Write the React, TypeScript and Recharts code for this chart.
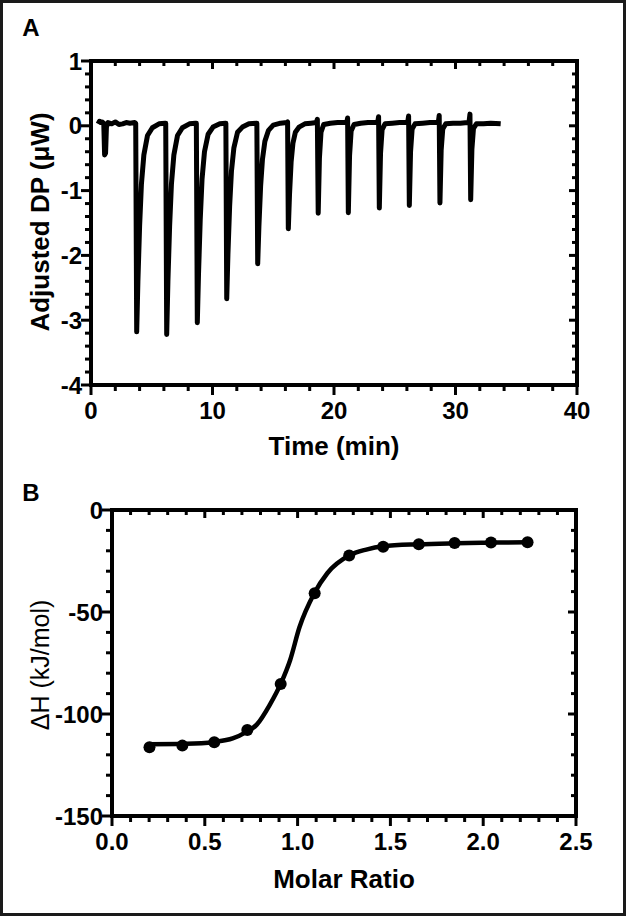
import { LineChart, Line, XAxis, YAxis } from "recharts";

const FONT = '"Liberation Sans", Arial, Helvetica, sans-serif';

// Panel A: raw ITC thermogram, [time (min), adjusted DP (µW)]
const traceA: [number, number][] = [
  [0.58, 0.03], [0.7, 0.07], [0.8, 0.05], [0.9, 0.06], [1.05, 0.04], [1.12, -0.45], [1.2, -0.42], [1.27, -0.02],
  [1.4, 0.05], [1.7, 0.03], [2.0, 0.06], [2.3, 0.02], [2.6, 0.03], [2.9, 0.05], [3.2, 0.04], [3.6, 0.05],
  [3.68, 0.04], [3.76, -3.18], [3.86, -2.4], [4.0, -1.55], [4.15, -0.9], [4.35, -0.45], [4.65, -0.15], [5.05, -0.03], [5.6, 0.03], [6.1, 0.04],
  [6.15, 0.04], [6.23, -3.22], [6.33, -2.4], [6.47, -1.55], [6.62, -0.9], [6.82, -0.45], [7.12, -0.15], [7.52, -0.03], [8.1, 0.03], [8.6, 0.04],
  [8.67, 0.04], [8.75, -3.04], [8.85, -2.28], [8.99, -1.45], [9.14, -0.82], [9.34, -0.4], [9.64, -0.13], [10.04, -0.02], [10.6, 0.03], [11.08, 0.04],
  [11.1, 0.04], [11.17, -2.67], [11.27, -1.98], [11.41, -1.24], [11.56, -0.7], [11.76, -0.34], [12.06, -0.1], [12.46, -0.02], [13.0, 0.03], [13.6, 0.04],
  [13.65, 0.04], [13.72, -2.13], [13.82, -1.55], [13.96, -0.93], [14.11, -0.52], [14.31, -0.24], [14.61, -0.07], [15.0, 0.01], [15.6, 0.04], [16.12, 0.05],
  [16.18, 0.06], [16.24, -1.59], [16.34, -1.05], [16.47, -0.56], [16.62, -0.27], [16.82, -0.1], [17.12, -0.02], [17.6, 0.03], [18.1, 0.04], [18.55, 0.05],
  [18.63, 0.1], [18.7, -1.35], [18.8, -0.5], [18.93, -0.1], [19.15, 0.02], [19.7, 0.04], [20.3, 0.05], [20.9, 0.05],
  [21.05, 0.05], [21.12, 0.12], [21.18, -1.34], [21.28, -0.46], [21.41, -0.08], [21.65, 0.02], [22.2, 0.04], [22.8, 0.05], [23.4, 0.05],
  [23.6, 0.06], [23.67, 0.14], [23.73, -1.27], [23.83, -0.42], [23.96, -0.06], [24.2, 0.03], [24.8, 0.04], [25.4, 0.05], [25.95, 0.05],
  [26.07, 0.06], [26.14, 0.15], [26.2, -1.23], [26.3, -0.4], [26.43, -0.05], [26.67, 0.03], [27.3, 0.04], [27.9, 0.05], [28.45, 0.05],
  [28.59, 0.06], [28.66, 0.16], [28.72, -1.19], [28.82, -0.38], [28.95, -0.05], [29.2, 0.03], [29.8, 0.04], [30.4, 0.04], [31.0, 0.05],
  [31.12, 0.07], [31.19, 0.18], [31.25, -1.14], [31.35, -0.36], [31.48, -0.04], [31.72, 0.03], [32.3, 0.03], [32.9, 0.04], [33.72, 0.03],
];

// Panel B: integrated heats
const molarRatio = [0.202, 0.379, 0.551, 0.729, 0.909, 1.092, 1.278, 1.461, 1.653, 1.846, 2.042, 2.239];
const enthalpy = [-116.3, -115.5, -113.9, -107.8, -85.3, -40.8, -22.3, -18, -16.8, -16.2, -15.9, -15.8];

// fitted binding curve
const fitRatio = [0.2, 0.4, 0.55, 0.65, 0.72, 0.78, 0.85, 0.91, 0.96, 1.01, 1.09, 1.16, 1.28, 1.37, 1.46, 1.65, 1.85, 2.04, 2.24];
const fitEnthalpy = [-114.8, -114.6, -113.7, -112, -109, -105.2, -95.5, -85, -73.5, -57.5, -40.8, -31, -22.2, -19.4, -17.8, -16.8, -16.3, -16, -15.8];

// axis ticks (major + minor)
const range = (a: number, b: number, step: number) => {
  const out: number[] = [];
  for (let v = a; v <= b + step / 2; v += step) out.push(Math.round(v * 1000) / 1000);
  return out;
};
const timeTicks = range(0, 40, 2);
const dpTicks = range(-4, 1, 0.2);
const ratioTicks = range(0, 2.5, 0.1);
const dhTicks = range(-150, 0, 10);

const thermoData = traceA.map(([t, dp]) => ({ t, dp }));
const pointData = molarRatio.map((x, i) => ({ x, y: enthalpy[i] }));
const fitData = fitRatio.map((x, i) => ({ x, y: fitEnthalpy[i] }));

type Side = "bottom" | "top" | "left" | "right";

const makeTick = (side: Side, major: number, decimals: number) => (props: any) => {
  const { x, y, payload } = props;
  const v = payload.value as number;
  const isMajor = Math.abs(v / major - Math.round(v / major)) < 1e-6;
  const outLen = isMajor ? 10 : 6;
  const inLen = isMajor ? 8 : 5;
  const label = v.toFixed(decimals);
  const textProps = { fill: "#000", fontSize: 24, fontWeight: 700, fontFamily: FONT };
  if (side === "bottom") {
    return (
      <g>
        <line x1={x} y1={y} x2={x} y2={y + outLen} stroke="#000" strokeWidth={3} />
        {isMajor && (
          <text x={x} y={y + 34} textAnchor="middle" {...textProps}>{label}</text>
        )}
      </g>
    );
  }
  if (side === "left") {
    return (
      <g>
        <line x1={x} y1={y} x2={x - outLen} y2={y} stroke="#000" strokeWidth={3} />
        {isMajor && (
          <text x={x - 9} y={y} dy="0.36em" textAnchor="end" {...textProps}>{label}</text>
        )}
      </g>
    );
  }
  if (side === "top") {
    return <line x1={x} y1={y} x2={x} y2={y + inLen} stroke="#000" strokeWidth={3} />;
  }
  return <line x1={x} y1={y} x2={x - inLen} y2={y} stroke="#000" strokeWidth={3} />;
};

const frameLine = { stroke: "#000", strokeWidth: 4, strokeLinecap: "square" as const };

const titleStyle: React.CSSProperties = {
  position: "absolute",
  fontFamily: FONT,
  fontWeight: 700,
  fontSize: 26,
  color: "#000",
  whiteSpace: "nowrap",
  transform: "translate(-50%, -50%)",
  lineHeight: 1,
};

// shared axis props for the boxed frame
const axisBase = {
  type: "number" as const,
  allowDataOverflow: true,
  interval: 0 as const,
  tickSize: 0,
  tickMargin: 0,
  axisLine: frameLine,
  tickLine: false,
};

export default function App() {
  return (
    <div style={{ position: "absolute", left: 0, top: 0, width: 626, height: 916, background: "#fff", overflow: "hidden" }}>
      <div style={{ position: "absolute", left: 0, top: 0 }}>
        <LineChart width={626} height={460} data={thermoData} margin={{ top: 60, right: 48, bottom: 15, left: 31 }}>
          <XAxis {...axisBase} dataKey="t" domain={[0, 40]} ticks={timeTicks} height={60} tick={makeTick("bottom", 10, 0)} />
          <XAxis {...axisBase} xAxisId="top" orientation="top" dataKey="t" domain={[0, 40]} ticks={timeTicks} height={1} tick={makeTick("top", 10, 0)} />
          <YAxis {...axisBase} domain={[-4, 1]} ticks={dpTicks} width={60} tick={makeTick("left", 1, 0)} />
          <YAxis {...axisBase} yAxisId="right" orientation="right" domain={[-4, 1]} ticks={dpTicks} width={1} tick={makeTick("right", 1, 0)} />
          <Line
            dataKey="dp"
            type="linear"
            stroke="#000"
            strokeWidth={5}
            strokeLinejoin="round"
            dot={false}
            isAnimationActive={false}
          />
          {/* invisible twin so the mirrored top/right axes get a scale */}
          <Line xAxisId="top" yAxisId="right" dataKey="dp" stroke="none" dot={false} activeDot={false} isAnimationActive={false} />
        </LineChart>
      </div>

      <div style={{ position: "absolute", left: 0, top: 470 }}>
        <LineChart width={626} height={446} margin={{ top: 39, right: 49, bottom: 40, left: 52 }}>
          <XAxis {...axisBase} dataKey="x" domain={[0, 2.5]} ticks={ratioTicks} height={60} tick={makeTick("bottom", 0.5, 1)} />
          <XAxis {...axisBase} xAxisId="top" orientation="top" dataKey="x" domain={[0, 2.5]} ticks={ratioTicks} height={1} tick={makeTick("top", 0.5, 1)} />
          <YAxis {...axisBase} domain={[-150, 0]} ticks={dhTicks} width={60} tick={makeTick("left", 50, 0)} />
          <YAxis {...axisBase} yAxisId="right" orientation="right" domain={[-150, 0]} ticks={dhTicks} width={1} tick={makeTick("right", 50, 0)} />
          <Line
            data={fitData}
            dataKey="y"
            type="monotone"
            stroke="#000"
            strokeWidth={4.5}
            dot={false}
            isAnimationActive={false}
          />
          <Line
            data={pointData}
            dataKey="y"
            stroke="none"
            dot={{ r: 6, fill: "#000", stroke: "#000", strokeWidth: 0 }}
            isAnimationActive={false}
          />
          <Line data={pointData} xAxisId="top" yAxisId="right" dataKey="y" stroke="none" dot={false} activeDot={false} isAnimationActive={false} />
        </LineChart>
      </div>

      {/* panel letters and axis titles */}
      <div style={{ ...titleStyle, fontSize: 24, left: 31, top: 28 }}>A</div>
      <div style={{ ...titleStyle, fontSize: 24, left: 31, top: 493 }}>B</div>
      <div style={{ ...titleStyle, left: 334, top: 446 }}>Time (min)</div>
      <div style={{ ...titleStyle, left: 40, top: 222, transform: "translate(-50%, -50%) rotate(-90deg)" }}>
        Adjusted DP (μW)
      </div>
      <div style={{ ...titleStyle, left: 344, top: 879 }}>Molar Ratio</div>
      <div
        style={{
          ...titleStyle,
          fontWeight: 400,
          fontSize: 25,
          left: 40,
          top: 665,
          transform: "translate(-50%, -50%) rotate(-90deg)",
        }}
      >
        ΔH (kJ/mol)
      </div>

      <div
        style={{
          position: "absolute",
          left: 0,
          top: 0,
          width: 626,
          height: 916,
          boxSizing: "border-box",
          border: "3px solid #1a1a1a",
          pointerEvents: "none",
        }}
      />
    </div>
  );
}
